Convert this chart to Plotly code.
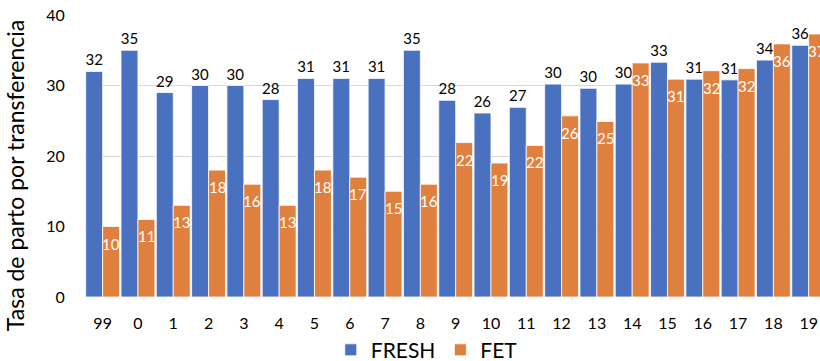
import plotly.graph_objects as go

categories = ["99", "0", "1", "2", "3", "4", "5", "6", "7", "8", "9", "10",
              "11", "12", "13", "14", "15", "16", "17", "18", "19"]
fresh = [32, 35, 29, 30, 30, 28, 31, 31, 31, 35, 27.9, 26.1, 26.9, 30.2, 29.6,
         30.2, 33.3, 30.9, 30.8, 33.6, 35.7]
fet = [10, 11, 13, 18, 16, 13, 18, 17, 15, 16, 21.9, 19.0, 21.5, 25.7, 24.9,
       33.2, 30.9, 32.1, 32.4, 35.9, 37.3]
y_title = "Tasa de parto por transferencia"

BLUE = "#4A71BF"
ORANGE = "#E0803F"
FONT = "Lato"
CLEAR = "rgba(0,0,0,0)"

fig = go.Figure()
fig.add_trace(go.Bar(
    x=categories, y=fresh, name="FRESH",
    marker=dict(color=BLUE, line=dict(color="white", width=0.8)),
    texttemplate="%{y:.0f}", textposition="outside", textangle=0,
    textfont=dict(family=FONT, size=15, color="black"),
    cliponaxis=False,
))
fig.add_trace(go.Bar(
    x=categories, y=fet, name="FET",
    marker=dict(color=ORANGE, line=dict(color="white", width=0.8)),
))

# FET value labels inside the bars, a little below the top (x = category index)
for i, v in enumerate(fet):
    fig.add_annotation(x=i, y=v, xref="x", yref="y", text=f"{v:.0f}",
                       showarrow=False, xanchor="center", yanchor="top",
                       xshift=8.5, yshift=-6,
                       font=dict(family=FONT, size=15, color="white"))

# y-axis title as a rotated annotation (centred a bit lower than the plot area)
fig.add_annotation(text=y_title, xref="paper", yref="paper", x=-0.096, y=0.43,
                   xanchor="center", yanchor="middle", textangle=-90,
                   showarrow=False, font=dict(family=FONT, size=23, color="black"))

fig.update_layout(
    width=820, height=361,
    margin=dict(l=85, r=0, t=15, b=64, autoexpand=False),
    paper_bgcolor="white", plot_bgcolor="white",
    barmode="group", bargap=0.04, bargroupgap=0,
    uniformtext=dict(minsize=15, mode="show"),
    font=dict(family=FONT, color="black"),
    showlegend=True,
    legend=dict(orientation="h", x=0.465, xanchor="center",
                yref="container", y=0.03, yanchor="middle",
                font=dict(family=FONT, size=21, color="black"),
                traceorder="normal"),
    xaxis=dict(type="category", range=[-0.5, 20.32], showgrid=False,
               showline=False, ticks="outside", ticklen=12, tickcolor=CLEAR,
               automargin=False,
               tickfont=dict(family=FONT, size=16)),
    yaxis=dict(range=[0, 40], dtick=10, showgrid=True, gridcolor="#D9D9D9",
               gridwidth=1, zeroline=False, showline=False,
               ticks="outside", ticklen=16, tickcolor=CLEAR,
               automargin=False,
               tickfont=dict(family=FONT, size=16)),
)

fig.write_html("out.html")
